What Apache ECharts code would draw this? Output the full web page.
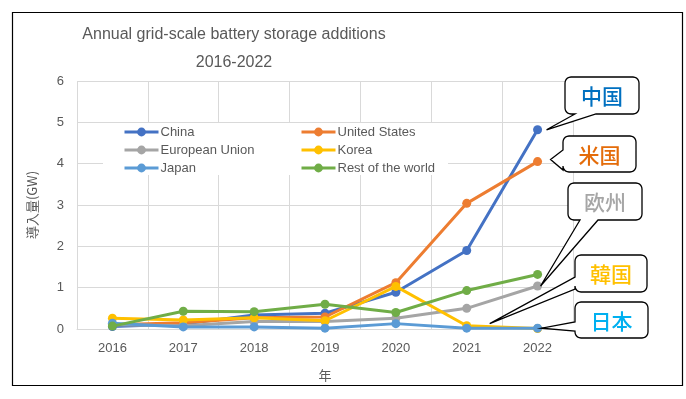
<!DOCTYPE html>
<html>
<head>
<meta charset="utf-8">
<script src="https://cdn.jsdelivr.net/npm/echarts@6/dist/echarts.min.js"></script>
<style>
html,body{margin:0;padding:0;background:#fff;}
#chart{width:686px;height:399px;}
</style>
</head>
<body>
<div id="chart"></div>
<script>
const years = ['2016','2017','2018','2019','2020','2021','2022'];
const china = [0.06, 0.12, 0.34, 0.38, 0.89, 1.90, 4.82];
const unitedStates = [0.10, 0.15, 0.27, 0.29, 1.12, 3.04, 4.05];
const europeanUnion = [0.10, 0.08, 0.18, 0.18, 0.26, 0.50, 1.04];
const korea = [0.26, 0.22, 0.27, 0.20, 1.03, 0.08, 0.01];
const japan = [0.14, 0.05, 0.05, 0.02, 0.13, 0.02, 0.02];
const restOfWorld = [0.07, 0.43, 0.42, 0.60, 0.40, 0.93, 1.32];
const yTicks = [0, 1, 2, 3, 4, 5, 6];
const seriesNames = ['China','United States','European Union','Korea','Japan','Rest of the world'];
const calloutTexts = ['中国','米国','欧州','韓国','日本'];

const colors = ['#4472C4','#ED7D31','#A5A5A5','#FFC000','#5B9BD5','#70AD47'];
const allData = [china, unitedStates, europeanUnion, korea, japan, restOfWorld];
const FONT = "'Liberation Sans', Arial, sans-serif";
const TXT = '#595959';

const chart = echarts.init(document.getElementById('chart'), null, {renderer:'canvas'});

const series = seriesNames.map((n, i) => ({
  name: n, type: 'line', data: allData[i],
  symbol: 'circle', symbolSize: 9,
  lineStyle: {width: 3, color: colors[i]},
  itemStyle: {color: colors[i]},
  z: 2 + i * 0.01
}));

const legendCommon = {
  orient: 'vertical', itemWidth: 34, itemHeight: 11, itemGap: 4,
  padding: 0,
  lineStyle: {width: 3},
  textStyle: {fontFamily: FONT, fontSize: 13, color: TXT, lineHeight: 14, padding: [0,0,0,-3]}
};

chart.setOption({
  animation: false,
  backgroundColor: '#fff',
  title: {
    text: 'Annual grid-scale battery storage additions\n2016-2022',
    left: 229, top: 16, textAlign: 'center',
    textStyle: {fontFamily: FONT, fontSize: 16, fontWeight: 'normal', color: TXT, lineHeight: 28}
  },
  grid: {left: 77, right: 113, top: 81, bottom: 70},
  legend: [
    Object.assign({}, legendCommon, {data: ['China','European Union','Japan'], left: 123, top: 125}),
    Object.assign({}, legendCommon, {data: ['United States','Korea','Rest of the world'], left: 300, top: 125})
  ],
  xAxis: {
    type: 'category', data: years, boundaryGap: true,
    name: '年', nameLocation: 'middle', nameGap: 40,
    nameTextStyle: {fontFamily: "'Noto Sans CJK JP', sans-serif", fontSize: 13, color: TXT},
    axisTick: {show: false},
    axisLine: {show: true, lineStyle: {color: '#D9D9D9'}},
    axisLabel: {fontFamily: FONT, fontSize: 13, color: TXT, margin: 13},
    splitLine: {show: true, lineStyle: {color: '#D9D9D9', width: 1}}
  },
  yAxis: {
    type: 'value', min: yTicks[0], max: yTicks[yTicks.length-1], interval: 1,
    name: '導入量(GW)', nameLocation: 'middle', nameGap: 38, nameRotate: 90,
    nameTextStyle: {fontFamily: "'Noto Sans CJK JP', sans-serif", fontSize: 13, color: TXT},
    axisLine: {show: false}, axisTick: {show: false},
    axisLabel: {fontFamily: FONT, fontSize: 13, color: TXT, margin: 13},
    splitLine: {lineStyle: {color: '#D9D9D9', width: 1}}
  },
  series: series
});

function roundedCallout(x, y, w, h, r, side, base, tip) {
  const pts = [];
  const arc = (cx, cy, a0, a1) => {
    for (let k = 0; k <= 5; k++) {
      const a = a0 + (a1 - a0) * k / 5;
      pts.push([cx + r * Math.cos(a), cy + r * Math.sin(a)]);
    }
  };
  const P = Math.PI;
  arc(x + r, y + r, P, 1.5 * P);
  arc(x + w - r, y + r, 1.5 * P, 2 * P);
  arc(x + w - r, y + h - r, 0, 0.5 * P);
  if (side === 'bottom') {
    pts.push([base[1], y + h], tip, [base[0], y + h]);
  }
  arc(x + r, y + h - r, 0.5 * P, P);
  if (side === 'left') {
    pts.push([x, base[1]], tip, [x, base[0]]);
  }
  return pts;
}

const calloutDefs = [
  {box: [565, 77, 74, 37], side: 'bottom', base: [575, 596], s: 0, d: 6, off: [9, 0], color: '#0070C0'},
  {box: [563, 136, 73, 36], side: 'left', base: [150, 170], s: 1, d: 6, off: [13, -2], color: '#E46C0A'},
  {box: [568, 183, 74, 37], side: 'bottom', base: [580, 598], s: 2, d: 6, off: [3, 0], color: '#A6A6A6'},
  {box: [575, 255, 72, 37], side: 'left', base: [277, 289], s: 3, d: 5, off: [23, -2], color: '#FFC000'},
  {box: [575, 302, 73, 36], side: 'left', base: [322, 331], s: 4, d: 6, off: [4, 0], color: '#00B0F0'}
];

const graphics = [
  {type: 'rect', shape: {x: 103, y: 123, width: 345, height: 52}, style: {fill: '#fff'}, z: 1, silent: true},
  {type: 'rect', shape: {x: 12.5, y: 12.5, width: 670, height: 373}, style: {fill: 'none', stroke: '#000', lineWidth: 1.2}, z: 0, silent: true}
];
calloutDefs.forEach((c, i) => {
  const p = chart.convertToPixel({seriesIndex: c.s}, [c.d, allData[c.s][c.d]]);
  const tip = [p[0] + c.off[0], p[1] + c.off[1]];
  const [x, y, w, h] = c.box;
  graphics.push({
    type: 'polygon', shape: {points: roundedCallout(x, y, w, h, 6, c.side, c.base, tip)},
    style: {fill: '#fff', stroke: '#000', lineWidth: 1.3}, z: 10, silent: true
  });
  graphics.push({
    type: 'text', x: x + w / 2, y: y + h / 2 + 1, z: 11, silent: true,
    style: {text: calloutTexts[i], fill: c.color, font: "500 21px 'Noto Sans CJK JP', sans-serif",
      textAlign: 'center', textVerticalAlign: 'middle'}
  });
});
chart.setOption({graphic: graphics});
</script>
</body>
</html>
